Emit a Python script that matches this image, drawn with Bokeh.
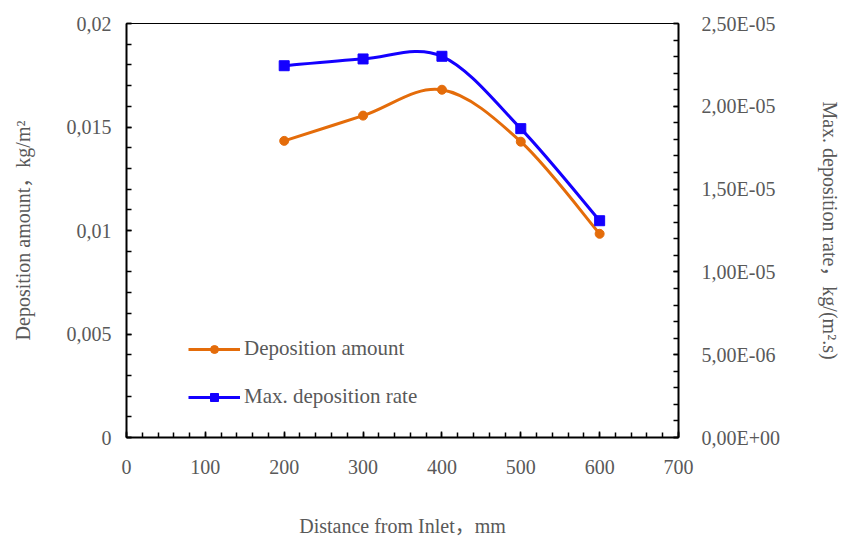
from bokeh.plotting import figure
from bokeh.models import (Range1d, LinearAxis, SingleIntervalTicker, CustomJSTickFormatter,
                          Legend, LegendItem, ColumnDataSource)
from bokeh.embed import file_html
from bokeh.resources import INLINE

# ---- data ----
distance = [200, 300, 400, 500, 600]
deposition_amount = [0.01433, 0.01555, 0.01680, 0.01429, 0.00984]
max_deposition_rate = [2.245e-05, 2.286e-05, 2.302e-05, 1.865e-05, 1.309e-05]

x_ticks = [0, 100, 200, 300, 400, 500, 600, 700]
x_labels = ["0", "100", "200", "300", "400", "500", "600", "700"]
left_ticks = [0, 0.005, 0.01, 0.015, 0.02]
left_labels = ["0", "0,005", "0,01", "0,015", "0,02"]
right_ticks = [0, 5e-06, 1e-05, 1.5e-05, 2e-05, 2.5e-05]
right_labels = ["0,00E+00", "5,00E-06", "1,00E-05", "1,50E-05", "2,00E-05", "2,50E-05"]

x_title = "Distance from Inlet，mm"
left_title = "Deposition amount，kg/m²"
right_title = "Max. deposition rate，kg/(m².s)"
series_names = ["Deposition amount", "Max. deposition rate"]

ORANGE = "#E46C0A"
BLUE = "#1400FF"
TEXT = "#595959"
FONT = "Liberation Serif"
TITLE_FONT = "'Liberation Serif', 'Noto Sans CJK SC'"


def smooth(xs, ys):
    # Excel-like smoothed line: cubic Bezier segments with Catmull-Rom control points
    n = len(xs)
    x0, y0, x1, y1, cx0, cy0, cx1, cy1 = [], [], [], [], [], [], [], []
    for i in range(n - 1):
        pm = i - 1 if i > 0 else i
        pp = i + 2 if i + 2 < n else i + 1
        x0.append(xs[i]); y0.append(ys[i])
        x1.append(xs[i + 1]); y1.append(ys[i + 1])
        cx0.append(xs[i] + (xs[i + 1] - xs[pm]) / 6.0)
        cy0.append(ys[i] + (ys[i + 1] - ys[pm]) / 6.0)
        cx1.append(xs[i + 1] - (xs[pp] - xs[i]) / 6.0)
        cy1.append(ys[i + 1] - (ys[pp] - ys[i]) / 6.0)
    return ColumnDataSource(dict(x0=x0, y0=y0, x1=x1, y1=y1, cx0=cx0, cy0=cy0, cx1=cx1, cy1=cy1))


def fmt(tick_vals, tick_labels):
    return CustomJSTickFormatter(args=dict(tv=tick_vals, lb=tick_labels), code="""
        for (let i = 0; i < tv.length; i++) {
            if (Math.abs(tv[i] - tick) <= Math.abs(tv[i]) * 1e-6 + 1e-15) return lb[i];
        }
        return '';
    """)


p = figure(width=843, height=539, output_backend="svg", toolbar_location=None,
           x_range=Range1d(0, 700), y_range=Range1d(0, 0.02),
           min_border_left=126, min_border_right=164, min_border_top=23, min_border_bottom=102,
           x_axis_location="below", y_axis_location="left")
p.extra_y_ranges = {"right": Range1d(0, 2.5e-05)}
p.grid.visible = False
p.outline_line_color = "black"
p.outline_line_width = 1
p.background_fill_color = "white"
p.border_fill_color = "white"

right_axis = LinearAxis(y_range_name="right")
p.add_layout(right_axis, "right")


def style_axis(ax, interval, tick_vals, tick_labels, title, label_standoff, title_standoff):
    ax.ticker = SingleIntervalTicker(interval=interval, num_minor_ticks=5)
    ax.formatter = fmt(tick_vals, tick_labels)
    ax.axis_label = title
    ax.axis_line_color = "black"
    ax.axis_line_width = 2
    ax.major_tick_line_color = "black"
    ax.minor_tick_line_color = "black"
    ax.major_tick_line_width = 1.5
    ax.minor_tick_line_width = 1.5
    ax.major_tick_out = 0
    ax.minor_tick_out = 0
    ax.major_tick_in = 5
    ax.minor_tick_in = 5
    ax.major_label_text_font = FONT
    ax.major_label_text_font_size = "20px"
    ax.major_label_text_color = TEXT
    ax.major_label_standoff = label_standoff
    ax.axis_label_text_font = TITLE_FONT
    ax.axis_label_text_font_size = "20px"
    ax.axis_label_text_font_style = "normal"
    ax.axis_label_text_color = TEXT
    ax.axis_label_standoff = title_standoff


style_axis(p.xaxis[0], 100, x_ticks, x_labels, x_title, 22, 38)
style_axis(p.yaxis[0], 0.005, left_ticks, left_labels, left_title, 15, 30)
style_axis(right_axis, 5e-06, right_ticks, right_labels, right_title, 23, 36)
p.xaxis[0].major_tick_in = 6

# smoothed curves
c1 = p.bezier(x0="x0", y0="y0", x1="x1", y1="y1", cx0="cx0", cy0="cy0", cx1="cx1", cy1="cy1",
              source=smooth(distance, deposition_amount), line_color=ORANGE, line_width=3)
c2 = p.bezier(x0="x0", y0="y0", x1="x1", y1="y1", cx0="cx0", cy0="cy0", cx1="cx1", cy1="cy1",
              source=smooth(distance, max_deposition_rate), line_color=BLUE, line_width=3,
              y_range_name="right")

m1 = p.scatter(distance, deposition_amount, marker="circle", size=9,
               fill_color=ORANGE, line_color=ORANGE)
m2 = p.scatter(distance, max_deposition_rate, marker="square", size=10,
               fill_color=BLUE, line_color=BLUE, y_range_name="right")

legend = Legend(items=[LegendItem(label=series_names[0], renderers=[c1, m1]),
                       LegendItem(label=series_names[1], renderers=[c2, m2])],
                location=(62, 28), orientation="vertical")
legend.glyph_width = 52
legend.glyph_height = 20
legend.label_height = 20
legend.label_standoff = 4
legend.spacing = 23
legend.padding = 0
legend.margin = 0
legend.border_line_color = None
legend.background_fill_alpha = 0
legend.label_text_font = FONT
legend.label_text_font_size = "21px"
legend.label_text_color = TEXT
p.add_layout(legend)

open("out.html", "w").write(file_html(p, INLINE))
